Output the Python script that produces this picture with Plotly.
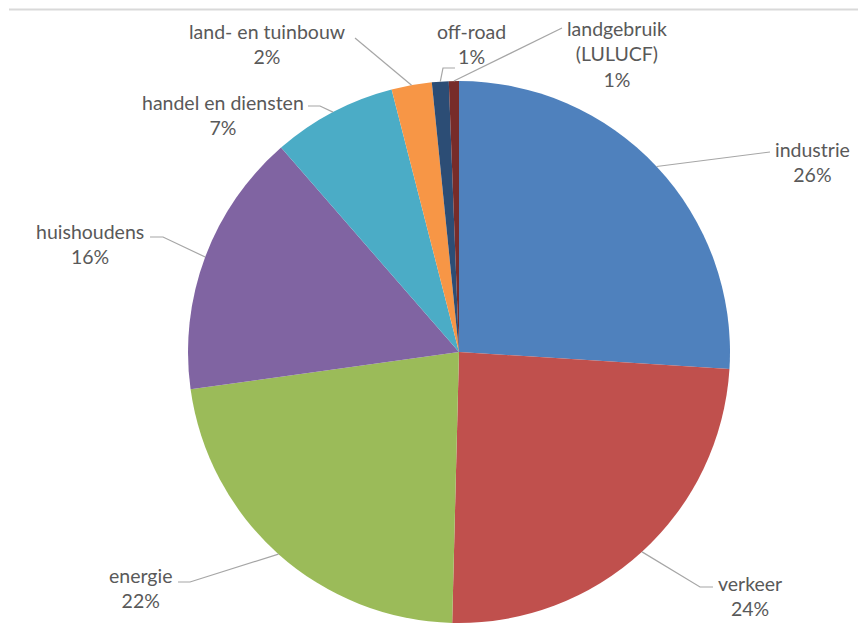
import math
import plotly.graph_objects as go

# Emission shares by sector (percent)
sectors = ["industrie", "verkeer", "energie", "huishoudens", "handel en diensten",
           "land- en tuinbouw", "off-road", "landgebruik (LULUCF)"]
label_text = ["industrie", "verkeer", "energie", "huishoudens", "handel en diensten",
              "land- en tuinbouw", "off-road", "landgebruik<br>(LULUCF)"]
shares = [26.0, 24.4, 22.4, 15.8, 7.4, 2.4, 1.0, 0.6]
colors = ["#4F81BD", "#C0504D", "#9BBB59", "#8064A2", "#4BACC6",
          "#F79646", "#2C4D75", "#772C2A"]

W, H = 858, 627
CX, CY, R = 459, 352, 271  # pie centre and radius in pixels

# label block centres and leader-line paths (pixels, label side)
label_pos = [(812, 162), (750, 596), (140, 588), (90, 244), (223, 115),
             (267, 44), (471, 44), (617, 54)]
leader_pts = [
    [(770, 152)],
    [(700, 587), (713, 587)],
    [(190, 582), (178, 582)],
    [(163, 237), (150, 237)],
    [(320, 106), (308, 106)],
    [(355, 38)],
    [(443, 68), (455, 68)],
    [(562, 28)],
]


def px(x):
    return x / W


def py(y):
    return 1 - y / H


fig = go.Figure(go.Pie(
    labels=sectors, values=shares, sort=False, direction="clockwise", rotation=0,
    marker=dict(colors=colors, line=dict(width=0)),
    textinfo="none", hoverinfo="label+percent",
    domain=dict(x=[px(CX - R), px(CX + R)], y=[py(CY + R), py(CY - R)]),
    showlegend=False,
))

total = sum(shares)
cum = 0.0
shapes = [dict(type="line", xref="paper", yref="paper",
               x0=px(9), x1=1, y0=py(9.5), y1=py(9.5),
               line=dict(color="#D9D9D9", width=2))]
annotations = []
for name, v, pos, pts in zip(label_text, shares, label_pos, leader_pts):
    mid = (cum + v / 2) / total * 2 * math.pi
    cum += v
    ex = CX + R * math.sin(mid)
    ey = CY - R * math.cos(mid)
    path_pts = [(ex, ey)] + pts
    d = "M " + " L ".join(f"{px(x):.5f},{py(y):.5f}" for x, y in path_pts)
    shapes.append(dict(type="path", xref="paper", yref="paper", path=d,
                       line=dict(color="#A6A6A6", width=1.2)))
    pct = round(v / total * 100)
    annotations.append(dict(
        x=px(pos[0]), y=py(pos[1]), xref="paper", yref="paper",
        text=f"{name}<br>{pct}%", showarrow=False, align="center",
        xanchor="center", yanchor="middle",
        font=dict(family="Lato", size=19.5, color="#595959"),
    ))

fig.update_layout(
    width=W, height=H, margin=dict(l=0, r=0, t=0, b=0),
    paper_bgcolor="white", plot_bgcolor="white",
    shapes=shapes, annotations=annotations,
)

fig.write_html("out.html")
